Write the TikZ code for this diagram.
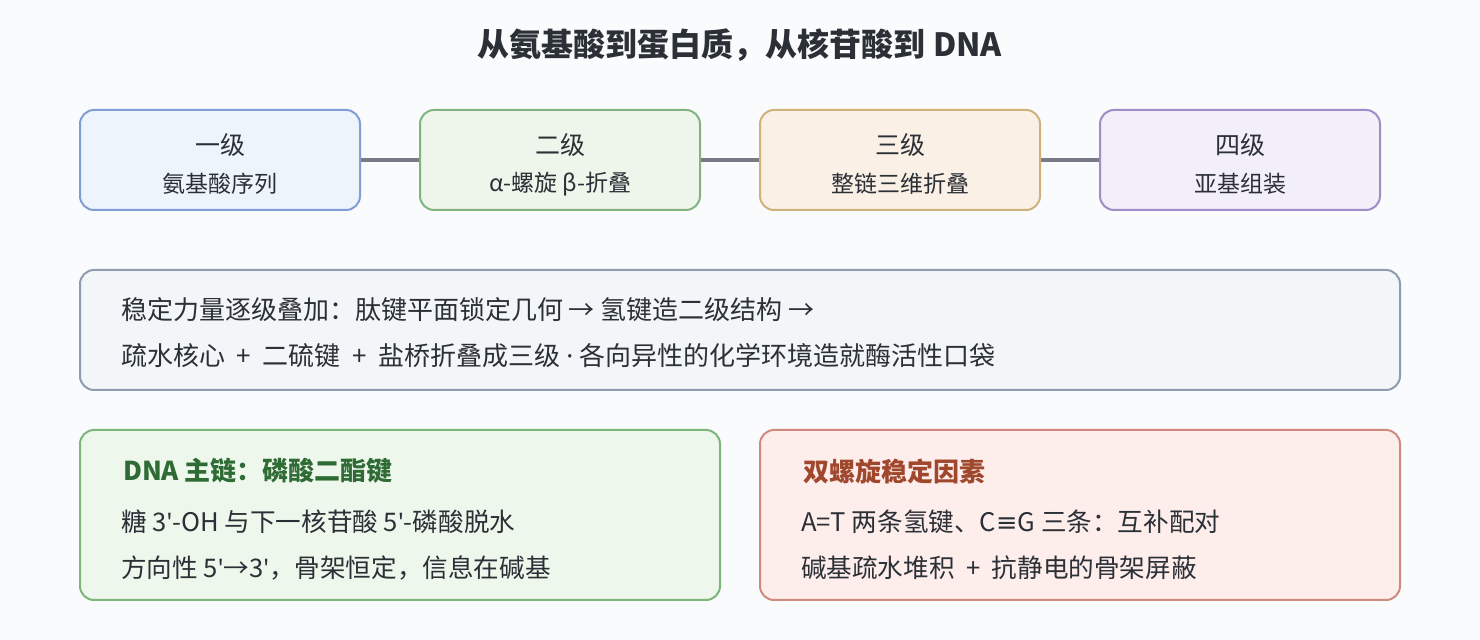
\documentclass[tikz,border=0pt]{standalone}
\usepackage{fontspec}
\setmainfont{Noto Sans CJK SC}
\newfontfamily\lat{Noto Sans}
\newfontfamily\dv{DejaVu Sans}
\newcommand{\ap}{{\lat\char39}}
\definecolor{bg}{HTML}{FAFBFC}
\definecolor{txt}{HTML}{2B2F36}
\definecolor{aF}{HTML}{EEF4FC}\definecolor{aD}{HTML}{7F9ED6}
\definecolor{bF}{HTML}{EEF6EC}\definecolor{bD}{HTML}{82B47F}
\definecolor{cF}{HTML}{FAF0E6}\definecolor{cD}{HTML}{CFB27A}
\definecolor{dF}{HTML}{F3EFF9}\definecolor{dD}{HTML}{A08CC8}
\definecolor{mF}{HTML}{F3F6F8}\definecolor{mD}{HTML}{8F9CAE}
\definecolor{gF}{HTML}{EEF7EC}\definecolor{gD}{HTML}{7DB57A}\definecolor{gT}{HTML}{2E6B35}
\definecolor{rF}{HTML}{FDEEEC}\definecolor{rD}{HTML}{CF8A7E}\definecolor{rT}{HTML}{A0482E}
\definecolor{ln}{HTML}{767B86}
\begin{document}
\begin{tikzpicture}[x=0.5pt,y=-0.5pt,
 box/.style={draw,line width=1pt,rounded corners=7pt},
 t/.style={text=txt,font=\fontsize{12.5}{14}\selectfont,anchor=center},
 s/.style={text=txt,font=\fontsize{11.5}{13}\selectfont,anchor=center},
 b/.style={text=txt,font=\fontsize{12.8}{14}\selectfont,anchor=west},
 mb/.style={text=txt,font=\fontsize{13}{15}\selectfont,anchor=west},
 con/.style={ln,line width=1.6pt}]
\fill[bg] (0,0) rectangle (1480,640);
\useasboundingbox (0,0) rectangle (1480,640);
\node[text=txt,font=\bfseries\fontsize{16}{18}\selectfont] (title) at (740,45) {从氨基酸到蛋白质，从核苷酸到 DNA};
\node[box,fill=aF,draw=aD,minimum width=140pt,minimum height=50pt] (p1) at (220,160) {};
\node[box,fill=bF,draw=bD,minimum width=140pt,minimum height=50pt] (p2) at (560,160) {};
\node[box,fill=cF,draw=cD,minimum width=140pt,minimum height=50pt] (p3) at (900,160) {};
\node[box,fill=dF,draw=dD,minimum width=140pt,minimum height=50pt] (p4) at (1240,160) {};
\draw[con] (p1.east) -- (p2.west); \draw[con] (p2.east) -- (p3.west); \draw[con] (p3.east) -- (p4.west);
\node[t] (p1a) at (220,145) {一级}; \node[s] (p1b) at (220,184) {氨基酸序列};
\node[t] (p2a) at (560,145) {二级}; \node[s] (p2b) at (560,184) {α-螺旋 β-折叠};
\node[t] (p3a) at (900,145) {三级}; \node[s] (p3b) at (900,184) {整链三维折叠};
\node[t] (p4a) at (1240,145) {四级}; \node[s] (p4b) at (1240,184) {亚基组装};
\draw[box,fill=mF,draw=mD] (80,270) rectangle (1400,390);
\node[mb] (m1) at (114,310) {稳定力量逐级叠加：肽键平面锁定几何 → 氢键造二级结构 →};
\node[mb] (m2) at (114,356) {疏水核心 \ + \ 二硫键 \ + \ 盐桥折叠成三级 {\lat ·} 各向异性的化学环境造就酶活性口袋};
\draw[box,fill=gF,draw=gD] (80,430) rectangle (720,600);
\node[b,text=gT,font=\bfseries\fontsize{13}{15}\selectfont] (g0) at (116,471) {DNA 主链：磷酸二酯键};
\node[b] (g1) at (114,522) {糖 3\ap-OH 与下一核苷酸 5\ap-磷酸脱水};
\node[b] (g2) at (114,568) {方向性 5\ap→3\ap，骨架恒定，信息在碱基};
\draw[box,fill=rF,draw=rD] (760,430) rectangle (1400,600);
\node[b,text=rT,font=\bfseries\fontsize{13}{15}\selectfont] (r0) at (796,471) {双螺旋稳定因素};
\node[b] (r1) at (794,522) {A=T 两条氢键、C{\dv ≡}G 三条：互补配对};
\node[b] (r2) at (794,568) {碱基疏水堆积 \ + \ 抗静电的骨架屏蔽};
\end{tikzpicture}
\end{document}
